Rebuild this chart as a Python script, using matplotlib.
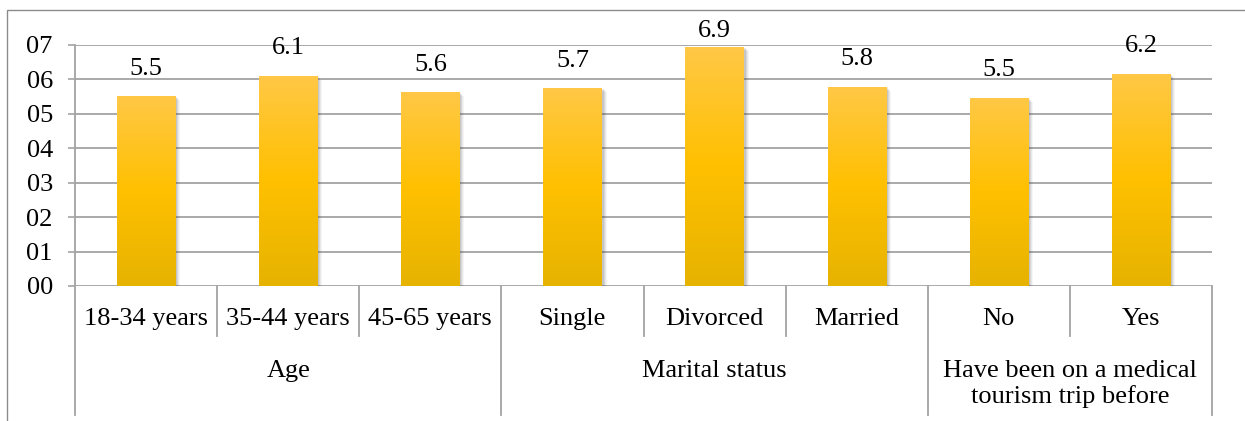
import numpy as np
import matplotlib
matplotlib.use("Agg")
import matplotlib.pyplot as plt
import matplotlib.transforms as mtransforms
from matplotlib.colors import LinearSegmentedColormap
from matplotlib.patches import Rectangle

plt.rcParams["font.family"] = ["Liberation Serif", "DejaVu Serif"]

# ── data ───────────────────────────────────────────────────────────────────────
categories = ["18-34 years", "35-44 years", "45-65 years",
              "Single", "Divorced", "Married", "No", "Yes"]
values = [5.51, 6.10, 5.63, 5.74, 6.94, 5.78, 5.47, 6.16]
groups = ["Age", "Marital status", "Have been on a medical\ntourism trip before"]
group_sizes = [3, 3, 2]
yticks = [0, 1, 2, 3, 4, 5, 6, 7]

FS = 19
GRID = "#a3a3a3"
LABEL_GAP = 0.48  # data units between bar top and label
LABEL_CAP = 7.08  # labels can't go above the chart area

# ── figure ─────────────────────────────────────────────────────────────────────
fig = plt.figure(figsize=(12.45, 4.21), dpi=100)
ax = fig.add_axes([75 / 1245, 135 / 421, (1212 - 75) / 1245, 241 / 421])

# outer chart border (runs off the right/bottom edge)
fig.patches.append(Rectangle((7 / 1245, -0.1), 1.2, (411 / 421) + 0.1,
                             transform=fig.transFigure, fill=False,
                             edgecolor="#8c8c8c", linewidth=1.0))

x = np.arange(len(categories))

# grid
for t in yticks:
    ax.axhline(t, color=GRID, linewidth=1.3, zorder=1)

# soft shadow: stacked offset translucent bars
for dx, dy, a in [(5, -4, 0.05), (4, -3, 0.07), (3, -2, 0.10), (2, -1, 0.12)]:
    tr = mtransforms.offset_copy(ax.transData, fig=fig, x=dx, y=dy, units="dots")
    ax.bar(x, values, width=0.41, color="#444444", alpha=a,
           linewidth=0, transform=tr, zorder=2)

# gradient bars
cmap = LinearSegmentedColormap.from_list("gold", ["#e6b300", "#ffc000", "#ffc846"])
grad = np.linspace(0, 1, 256).reshape(-1, 1)
bars = ax.bar(x, values, width=0.41, color="none", linewidth=0, zorder=3)
for b in bars:
    x0, y0 = b.get_x(), b.get_y()
    im = ax.imshow(grad, cmap=cmap, aspect="auto", origin="lower",
                   extent=[x0, x0 + b.get_width(), y0, y0 + b.get_height()],
                   zorder=3, interpolation="bilinear")
    im.set_clip_path(b)

ax.set_xlim(-0.5, len(categories) - 0.5)
ax.set_ylim(0, 7)

# data labels
for xi, v in zip(x, values):
    ax.text(xi, min(v + LABEL_GAP, LABEL_CAP), f"{v:.1f}", ha="center", va="bottom",
            fontsize=FS, clip_on=False)

# axes styling
for s in ax.spines.values():
    s.set_visible(False)
ax.set_yticks(yticks)
ax.set_yticklabels([f"{t:02d}" for t in yticks], fontsize=FS)
ax.tick_params(axis="y", length=5, width=1.2, color=GRID, pad=11)
ax.set_xticks([])

# category axis
xax = mtransforms.blended_transform_factory(ax.transData, ax.transAxes)
CAT_Y, LINE_SHORT, LINE_LONG, GROUP_Y = -0.135, -0.207, -0.535, -0.308

for xi, c in zip(x, categories):
    ax.text(xi, CAT_Y, c, transform=xax, ha="center", va="center", fontsize=FS)

# left spine, all the way down
ax.plot([-0.5, -0.5], [1, LINE_LONG], transform=xax, color=GRID, lw=1.3, clip_on=False)

edges = np.cumsum([0] + group_sizes) - 0.5
for k in range(1, len(categories) + 1):
    xe = k - 0.5
    bottom = LINE_LONG if xe in edges else LINE_SHORT
    ax.plot([xe, xe], [0, bottom], transform=xax, color=GRID, lw=1.3, clip_on=False)

for g, lo, hi in zip(groups, edges[:-1], edges[1:]):
    ax.text((lo + hi) / 2, GROUP_Y, g, transform=xax, ha="center", va="top",
            fontsize=FS, linespacing=1.15)

plt.savefig("out.png", dpi=100)
